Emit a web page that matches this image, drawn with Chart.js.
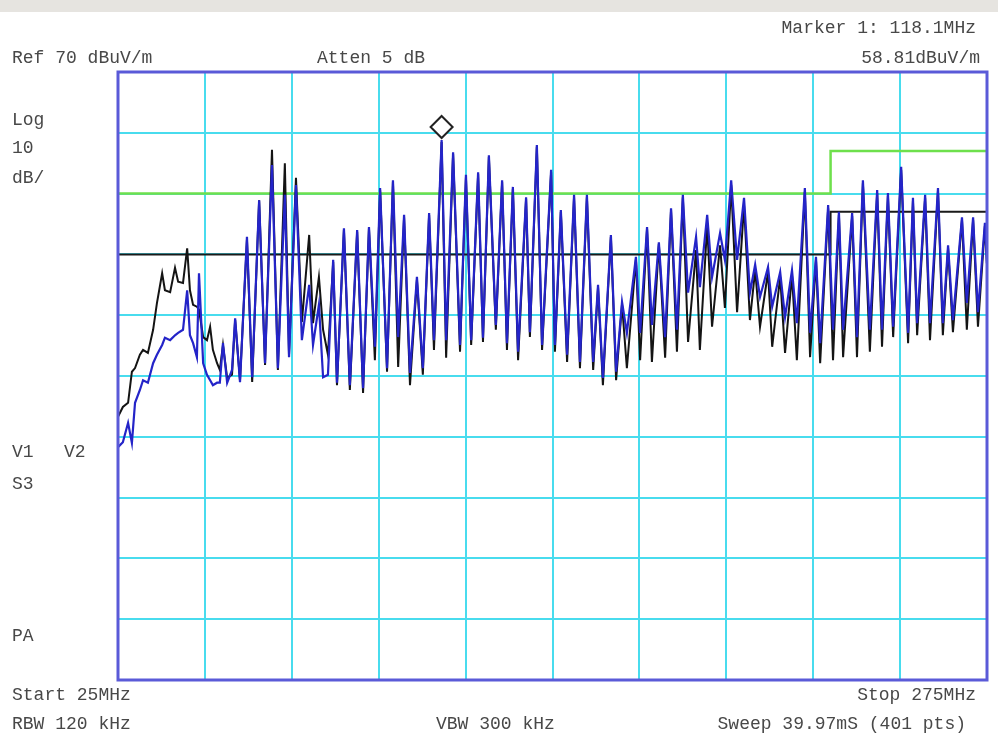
<!DOCTYPE html>
<html>
<head>
<meta charset="utf-8">
<script src="https://cdn.jsdelivr.net/npm/chart.js@4.4.0/dist/chart.umd.min.js"></script>
<style>
  body { margin: 0; background: #fff; }
  #wrap { position: relative; width: 998px; height: 738px; overflow: hidden; }
  #topbar { position: absolute; left: 0; top: 0; width: 998px; height: 12px; background: #e6e4e0; }
  .lbl { position: absolute; font-family: "Liberation Mono", monospace; font-size: 18px; color: #484848; line-height: 20px; white-space: pre; }
  .r { text-align: right; }
</style>
</head>
<body>
<div id="wrap">
  <div id="topbar"></div>
  <canvas id="spectrum" width="998" height="738"></canvas>
  <div class="lbl r" style="right:22px; top:18px;">Marker 1: 118.1MHz</div>
  <div class="lbl" style="left:12px; top:48px;">Ref 70 dBuV/m</div>
  <div class="lbl" style="left:317px; top:48px;">Atten 5 dB</div>
  <div class="lbl r" style="right:18px; top:48px;">58.81dBuV/m</div>
  <div class="lbl" style="left:12px; top:110px;">Log</div>
  <div class="lbl" style="left:12px; top:138px;">10</div>
  <div class="lbl" style="left:12px; top:168px;">dB/</div>
  <div class="lbl" style="left:12px; top:442px;">V1</div>
  <div class="lbl" style="left:64px; top:442px;">V2</div>
  <div class="lbl" style="left:12px; top:474px;">S3</div>
  <div class="lbl" style="left:12px; top:626px;">PA</div>
  <div class="lbl" style="left:12px; top:685px;">Start 25MHz</div>
  <div class="lbl r" style="right:22px; top:685px;">Stop 275MHz</div>
  <div class="lbl" style="left:12px; top:714px;">RBW 120 kHz</div>
  <div class="lbl" style="left:436px; top:714px;">VBW 300 kHz</div>
  <div class="lbl r" style="right:32px; top:714px;">Sweep 39.97mS (401 pts)</div>
</div>
<script>
// sweep 25 - 275 MHz, ref 70 dBuV/m, 10 dB/div
const freqMHz = [
  25.0, 26.4, 27.9, 29.0, 29.9, 31.3, 32.2, 33.6, 35.1, 36.2,
  37.7, 38.5, 40.0, 41.4, 42.3, 43.7, 44.9, 45.7, 46.6, 47.7,
  48.3, 49.5, 50.6, 51.5, 52.3, 53.5, 54.3, 55.2, 56.4, 57.8,
  58.7, 60.1, 62.1, 63.6, 65.6, 67.3, 69.3, 71.0, 73.0, 74.2,
  76.2, 77.9, 80.0, 81.1, 82.8, 84.0, 85.4, 86.9, 88.0, 90.0,
  91.7, 93.8, 95.5, 97.2, 98.9, 100.4, 102.4, 104.1, 105.6, 107.3,
  109.0, 111.0, 112.7, 114.5, 115.9, 118.1, 119.4, 121.4, 123.4, 125.1,
  126.6, 128.6, 130.0, 131.7, 133.7, 135.5, 136.9, 138.6, 140.1, 142.4,
  143.5, 145.5, 147.0, 149.6, 150.7, 152.4, 154.2, 156.2, 157.9, 159.9,
  161.7, 163.1, 164.5, 166.8, 168.3, 170.0, 171.4, 174.0, 175.2, 177.2,
  178.6, 180.6, 182.4, 184.1, 185.8, 187.5, 189.0, 191.3, 192.4, 194.5,
  195.9, 198.2, 199.6, 201.4, 203.1, 205.1, 206.8, 208.3, 209.7, 212.0,
  213.2, 215.5, 216.9, 218.9, 220.3, 222.6, 224.1, 225.8, 227.0, 229.3,
  230.7, 232.4, 233.6, 236.2, 237.6, 239.3, 241.3, 243.4, 244.8, 246.5,
  248.0, 250.3, 252.3, 253.7, 254.9, 257.2, 258.6, 260.9, 262.3, 263.8,
  265.2, 267.8, 269.2, 271.0, 272.4, 274.4, 275.0
];

// blue trace (dBuV/m)
const traceBlue = [
  8.3, 9.1, 12.3, 9.0, 15.6, 17.7, 19.3, 18.9, 22.1, 23.5,
  25.1, 26.3, 25.9, 26.7, 27.1, 27.6, 34.1, 26.7, 25.4, 23.1,
  36.9, 22.1, 20.2, 19.3, 18.5, 18.9, 18.9, 25.4, 18.9, 21.0,
  29.5, 19.0, 42.9, 19.8, 48.9, 22.1, 54.7, 21.3, 49.8, 23.1,
  51.4, 25.9, 35.0, 25.1, 31.7, 19.8, 20.2, 39.1, 18.9, 44.3,
  18.5, 44.0, 18.0, 44.5, 24.8, 50.9, 21.3, 52.2, 26.4, 46.5,
  20.5, 36.3, 21.3, 46.8, 25.9, 58.8, 25.9, 56.8, 25.1, 53.1,
  25.9, 53.5, 26.3, 56.3, 28.4, 52.2, 25.4, 51.1, 24.0, 49.4,
  27.2, 58.0, 25.1, 53.9, 25.1, 47.3, 23.5, 49.8, 22.3, 49.8,
  22.3, 35.0, 19.7, 43.2, 20.7, 32.2, 27.1, 39.6, 27.1, 44.5,
  28.4, 42.0, 26.4, 47.6, 27.6, 49.8, 33.7, 42.9, 34.6, 46.5,
  36.3, 43.5, 39.1, 52.2, 39.1, 49.3, 33.7, 38.3, 33.0, 37.9,
  31.4, 37.1, 29.7, 37.4, 28.7, 50.9, 27.1, 39.6, 25.4, 48.1,
  27.6, 47.0, 27.6, 46.8, 26.4, 52.2, 27.6, 50.6, 27.6, 50.1,
  28.1, 54.4, 27.1, 49.3, 28.7, 49.8, 28.7, 50.9, 28.7, 41.5,
  29.2, 46.1, 32.0, 46.1, 30.5, 45.2, 38.6
];

// black trace (dBuV/m)
const traceBlack = [
  13.3, 14.9, 15.6, 20.7, 21.3, 23.5, 24.3, 23.8, 27.6, 32.0,
  36.9, 34.1, 33.8, 37.8, 35.5, 35.3, 41.0, 34.1, 31.7, 31.4,
  30.9, 26.4, 25.9, 28.1, 24.3, 22.1, 21.0, 25.1, 19.7, 20.2,
  29.2, 19.3, 42.4, 19.0, 48.9, 21.8, 57.2, 21.0, 55.0, 23.5,
  52.6, 28.9, 43.2, 28.7, 36.3, 27.6, 23.5, 38.8, 18.5, 44.0,
  17.7, 43.7, 17.2, 44.3, 22.6, 50.6, 20.7, 51.9, 21.5, 46.1,
  18.5, 35.8, 20.2, 46.5, 24.3, 58.5, 23.0, 56.5, 24.0, 52.7,
  25.1, 53.2, 25.6, 56.0, 27.6, 51.9, 24.3, 50.8, 22.6, 49.1,
  26.4, 57.7, 24.3, 53.5, 24.0, 47.0, 22.3, 49.4, 21.3, 49.4,
  21.0, 34.6, 18.5, 42.9, 19.3, 31.8, 21.3, 39.2, 22.6, 44.2,
  22.3, 41.7, 23.0, 47.3, 24.0, 49.4, 25.6, 40.7, 24.3, 44.8,
  28.1, 41.5, 31.2, 51.4, 30.5, 48.1, 29.2, 37.4, 28.1, 37.1,
  24.8, 36.3, 23.8, 36.6, 22.6, 50.3, 23.1, 39.1, 22.1, 47.6,
  22.6, 46.5, 23.1, 46.3, 23.1, 51.7, 24.0, 50.1, 24.8, 49.6,
  26.4, 53.9, 25.4, 48.8, 26.7, 49.3, 25.9, 50.4, 26.7, 41.0,
  27.2, 45.7, 27.6, 45.7, 28.1, 44.7, 38.3
];

// limit lines
const limitFreq = [25, 230, 230, 275];
const limitGreen = [50, 50, 57, 57];
const limitBlack = [40, 40, 47, 47];

// marker 1
const markerFreq = 118.1;
const markerLevel = 58.81;

function pts(xs, ys) {
  return xs.map((x, i) => ({ x: x, y: ys[i] }));
}

const framePlugin = {
  id: 'frame',
  afterDraw(chart) {
    const { ctx, chartArea, scales } = chart;
    ctx.save();
    ctx.strokeStyle = '#5a5ad8';
    ctx.lineWidth = 3;
    ctx.strokeRect(chartArea.left, chartArea.top, chartArea.right - chartArea.left, chartArea.bottom - chartArea.top);
    // marker diamond sits just above the peak
    const mx = scales.x.getPixelForValue(markerFreq);
    const my = scales.y.getPixelForValue(markerLevel) - 13;
    ctx.beginPath();
    ctx.moveTo(mx, my - 11);
    ctx.lineTo(mx + 11, my);
    ctx.lineTo(mx, my + 11);
    ctx.lineTo(mx - 11, my);
    ctx.closePath();
    ctx.fillStyle = '#fff';
    ctx.fill();
    ctx.strokeStyle = '#222';
    ctx.lineWidth = 2;
    ctx.stroke();
    ctx.restore();
  }
};

new Chart(document.getElementById('spectrum'), {
  type: 'line',
  data: {
    datasets: [
      { label: 'Trace 1', data: pts(freqMHz, traceBlue), borderColor: '#2424c8', borderWidth: 2.2, order: 0 },
      { label: 'Trace 2', data: pts(freqMHz, traceBlack), borderColor: '#141414', borderWidth: 2, order: 1 },
      { label: 'Limit A', data: pts(limitFreq, limitGreen), borderColor: '#6ee04c', borderWidth: 2.5, order: 2 },
      { label: 'Limit B', data: pts(limitFreq, limitBlack), borderColor: '#1a1a1a', borderWidth: 2, order: 3 }
    ]
  },
  options: {
    responsive: false,
    animation: false,
    parsing: false,
    layout: { padding: { left: 118, right: 11, top: 72, bottom: 58 } },
    elements: { point: { radius: 0 }, line: { tension: 0, fill: false } },
    plugins: { legend: { display: false }, tooltip: { enabled: false } },
    scales: {
      x: {
        type: 'linear', min: 25, max: 275,
        ticks: { display: false, stepSize: 25 },
        grid: { color: '#48dcee', lineWidth: 2, drawTicks: false },
        border: { display: false }
      },
      y: {
        type: 'linear', min: -30, max: 70,
        ticks: { display: false, stepSize: 10 },
        grid: { color: '#48dcee', lineWidth: 2, drawTicks: false },
        border: { display: false }
      }
    }
  },
  plugins: [framePlugin]
});
</script>
</body>
</html>
